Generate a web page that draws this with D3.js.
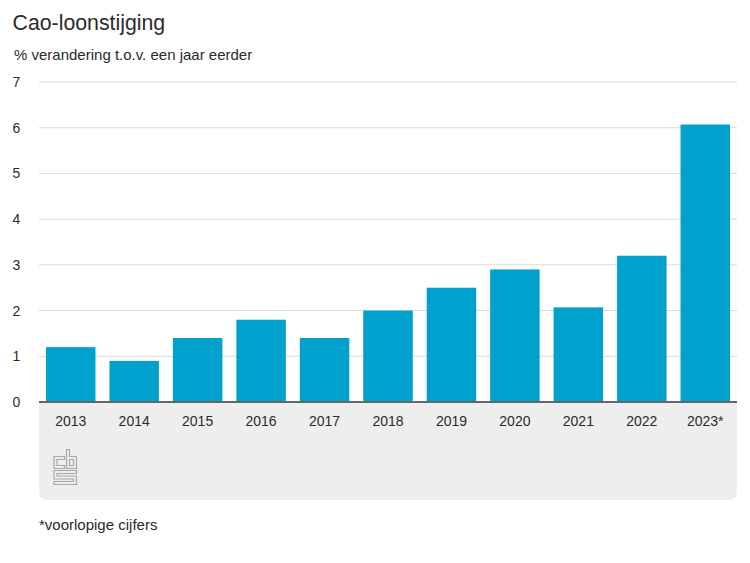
<!DOCTYPE html>
<html><head><meta charset="utf-8">
<script src="https://cdn.jsdelivr.net/npm/d3@7"></script>
<style>html,body{margin:0;padding:0;background:#fff}svg{display:block}text{font-family:"Liberation Sans",Arial,sans-serif;fill:#2b2b2b}</style>
</head><body><div id="c"></div>
<script>
const categories=["2013","2014","2015","2016","2017","2018","2019","2020","2021","2022","2023*"];
const values=[1.2,0.9,1.4,1.8,1.4,2.0,2.5,2.9,2.07,3.2,6.07];
const yTicks=[0,1,2,3,4,5,6,7];
const title="Cao-loonstijging", subtitle="% verandering t.o.v. een jaar eerder", note="*voorlopige cijfers";

const W=750,H=563,L=39,R=737,T=82,B=402;
const svg=d3.select("#c").append("svg").attr("width",W).attr("height",H);
const x=d3.scaleBand().domain(categories).range([L,R]).paddingInner(0.22).paddingOuter(0.11);
const y=d3.scaleLinear().domain([0,7]).range([B,T]);

// grey footer panel
svg.append("path").attr("fill","#eeeeee")
  .attr("d",`M${L},${B}H${R}V492a8,8 0 0 1 -8,8H${L+8}a8,8 0 0 1 -8,-8Z`);

// gridlines
svg.append("g").selectAll("line").data(yTicks.filter(d=>d>0)).join("line")
  .attr("x1",L).attr("x2",R).attr("y1",d=>y(d)).attr("y2",d=>y(d))
  .attr("stroke","#d9d9d9").attr("stroke-width",1);

// y labels
svg.append("g").selectAll("text").data(yTicks).join("text")
  .attr("x",12.5).attr("y",d=>y(d)+5).attr("font-size",14).text(d=>d);

// bars
svg.append("g").selectAll("rect").data(values).join("rect")
  .attr("x",(d,i)=>x(categories[i])).attr("width",x.bandwidth())
  .attr("y",d=>y(d)).attr("height",d=>B-y(d)).attr("fill","#00a1cd");

// baseline
svg.append("line").attr("x1",L).attr("x2",R).attr("y1",B).attr("y2",B)
  .attr("stroke","#666").attr("stroke-width",2);

// x labels
svg.append("g").selectAll("text").data(categories).join("text")
  .attr("x",d=>x(d)+x.bandwidth()/2).attr("y",425.5).attr("text-anchor","middle")
  .attr("font-size",14).text(d=>d);

// texts
svg.append("text").attr("x",12.5).attr("y",30).attr("font-size",21.3).text(title);
svg.append("text").attr("x",14).attr("y",60).attr("font-size",15).text(subtitle);
svg.append("text").attr("x",39).attr("y",530).attr("font-size",15).text(note);

// logo
const logo=svg.append("g").attr("fill","none").attr("stroke","#a8a8a8").attr("stroke-width",1.2);
logo.append("path").attr("d","M54,456.5H64.5V459.5H57V465.5H64.5V468.5H54Z");
logo.append("path").attr("d","M66.5,449.5H69.5V456.5H76.5V468.5H66.5Z");
logo.append("rect").attr("x",69.5).attr("y",459.5).attr("width",4).attr("height",6);
logo.append("path").attr("d","M54,470.5H76.5V473.5H57V476H76.5V484.5H54V481.5H73.5V479H54Z");
</script></body></html>
